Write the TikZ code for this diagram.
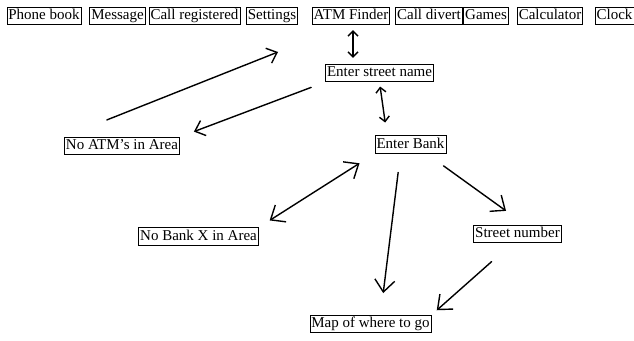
\documentclass[tikz,border=0pt]{standalone}
\usepackage{fontspec}
\setmainfont{Liberation Serif}
\usepackage{tikz}
\usetikzlibrary{arrows.meta}

\begin{document}
\begin{tikzpicture}[x=1pt,y=-1pt]
\tikzstyle{every node}+=[font=\fontsize{15}{18}\selectfont]
\tikzstyle{menubox}=[draw=black,line width=0.7pt,inner sep=1.5pt,text height=11pt,text depth=3.5pt]
\tikzstyle{pen}=[black,line width=1.4pt,line cap=round]
\tikzstyle{smalltip}=[pen,{Straight Barb[length=5pt,width=10pt]}-{Straight Barb[length=5pt,width=10pt]}]
\tikzstyle{midtip}=[pen,-{Straight Barb[length=9pt,width=16pt]}]
\tikzstyle{bigtip}=[pen,-{Straight Barb[length=12pt,width=20pt]}]
\tikzstyle{bigboth}=[pen,{Straight Barb[length=12pt,width=20pt]}-{Straight Barb[length=12pt,width=20pt]}]
\useasboundingbox (0,0) rectangle (634,340);
% phone menu
\node [menubox] (phone) at (44,16) {Phone book};
\node [menubox] (message) at (117.5,16) {Message};
\node [menubox] (calls) at (194.5,16) {Call registered};
\node [menubox] (settings) at (272,16) {Settings};
\node [menubox] (finder) at (351,16) {ATM Finder};
\node [menubox] (divert) at (429,16) {Call divert};
\node [menubox] (games) at (486,16) {Games};
\node [menubox] (calc) at (550,16) {Calculator};
\node [menubox] (clock) at (614.5,16) {Clock};
% ATM finder screens
\node [menubox] (street) at (379.5,73) {Enter street name};
\node [menubox] (noatm) at (122,146) {No ATM's in Area};
\node [menubox] (bank) at (410.5,144.5) {Enter Bank};
\node [menubox] (nobank) at (198.5,236.5) {No Bank X in Area};
\node [menubox] (number) at (517.5,234) {Street number};
\node [menubox] (map) at (370.5,324) {Map of where to go};
\coordinate (atmend) at (278,52);
% links
\draw [smalltip,shorten <=5pt,shorten >=6pt] ([xshift=2pt]finder.south) -- ([xshift=2pt]finder.south |- street.north);
\draw [smalltip,shorten <=4.5pt,shorten >=13pt] (street.south) -- ([xshift=-23.5pt]bank.north);
\draw [midtip,shorten <=46pt] (noatm.north west) -- (atmend);
\draw [midtip,shorten <=15pt,shorten >=15pt] (street.south west) -- (noatm.north east);
\draw [bigboth,shorten <=18pt,shorten >=13pt] (bank.south west) -- (nobank.north east);
\draw [bigtip,shorten <=19pt,shorten >=22pt] ([xshift=-10pt]bank.south) -- ([xshift=10pt]map.north);
\draw [bigtip,shorten <=21pt,shorten >=24pt] ([xshift=16pt]bank.south) -- ([xshift=8pt]number.north);
\draw [bigtip,shorten <=28pt,shorten >=7pt] ([xshift=-5pt]number.south) -- (map.north east);
\end{tikzpicture}
\end{document}
